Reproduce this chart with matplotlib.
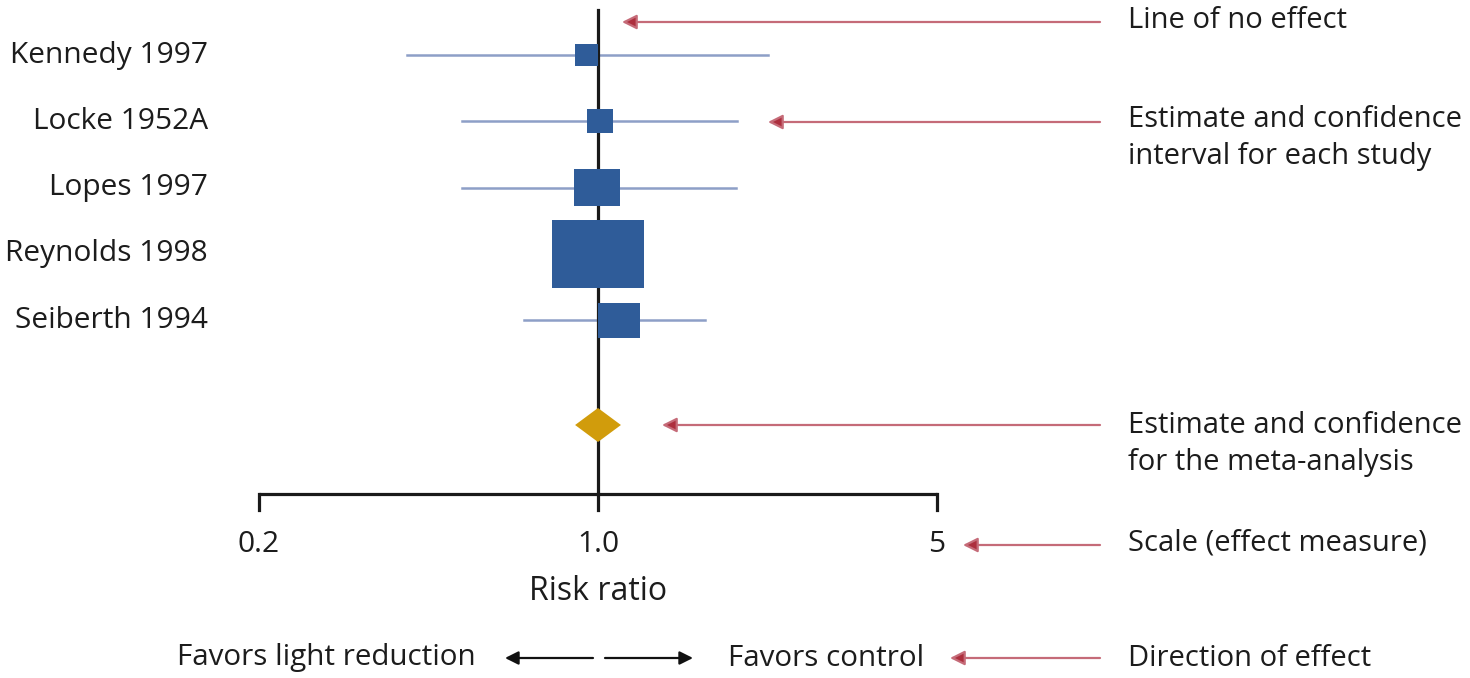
import numpy as np
import matplotlib
matplotlib.use("Agg")
import matplotlib.pyplot as plt
from matplotlib.patches import Rectangle, Polygon

plt.rcParams['font.family'] = ['Open Sans', 'DejaVu Sans']

# study data (risk ratio, 95% CI, weight)
studies = ["Kennedy 1997", "Locke 1952A", "Lopes 1997", "Reynolds 1998", "Seiberth 1994"]
rr = [0.947, 1.01, 0.995, 1.0, 1.105]
ci_low = [0.404, 0.524, 0.524, 0.88, 0.704]
ci_high = [2.24, 1.93, 1.925, 1.14, 1.66]
weights = [5, 6, 20, 80, 17]

# pooled estimate
pooled_rr = 1.0
pooled_low = 0.897
pooled_high = 1.115

scale_ticks = [0.2, 1.0, 5]
scale_labels = ["0.2", "1.0", "5"]

notes = ["Line of no effect",
         "Estimate and confidence\ninterval for each study",
         "Estimate and confidence\nfor the meta-analysis",
         "Scale (effect measure)",
         "Direction of effect"]

W, H = 1470, 678
PX_PER_LN = 210.7
X0 = 598  # pixel column of RR = 1
TXT = '#1c1c1c'


def px(x):
    # pixel column -> value on the log axis
    return np.exp((x - X0) / PX_PER_LN)


fig = plt.figure(figsize=(W / 100, H / 100), dpi=100)
ax = fig.add_axes([0, 0, 1, 1])
ax.set_xscale('log')
ax.set_xlim(px(0), px(W))
ax.set_ylim(H, 0)
ax.axis('off')

box_col = '#2f5c99'
ci_col = '#8d9fc7'
red = '#ad2f3e'
red_line = '#c56b78'

row_y = 55 + 66.3 * np.arange(len(studies))
pooled_y = 425
axis_y = 494

# line of no effect
ax.plot([1, 1], [10, axis_y], color='#1a1a1a', lw=2.3, zorder=3)

for i, name in enumerate(studies):
    y = row_y[i]
    ax.plot([ci_low[i], ci_high[i]], [y, y], color=ci_col, lw=1.8, zorder=2)
    half = 0.0245 * np.sqrt(weights[i])
    w_px = 2 * half * PX_PER_LN
    h = 7 + 0.66 * w_px
    ax.add_patch(Rectangle((rr[i] * np.exp(-half), y - h / 2),
                           rr[i] * np.exp(half) - rr[i] * np.exp(-half), h,
                           facecolor=box_col, edgecolor='none', zorder=4))
    ax.text(px(208), y, name, ha='right', va='center', fontsize=21.5, color=TXT)

# pooled diamond
ax.add_patch(Polygon([(pooled_low, pooled_y), (pooled_rr, pooled_y - 17),
                      (pooled_high, pooled_y), (pooled_rr, pooled_y + 17)],
                     closed=True, facecolor='#d19c0c', edgecolor='none', zorder=4))

# scale axis
ax.plot([scale_ticks[0], scale_ticks[-1]], [axis_y, axis_y], color='#1a1a1a', lw=2.3,
        solid_capstyle='butt', zorder=3)
for t, lab in zip(scale_ticks, scale_labels):
    ax.plot([t, t], [axis_y, 510], color='#1a1a1a', lw=2.3, zorder=3)
    ax.text(t, 545, lab, ha='center', va='center', fontsize=21.5, color=TXT)
ax.text(1.0, 591, "Risk ratio", ha='center', va='center', fontsize=23, color=TXT)

# direction of effect
ax.text(px(326), 658, "Favors light reduction", ha='center', va='center', fontsize=21.3,
        color=TXT)
ax.text(px(826), 658, "Favors control", ha='center', va='center', fontsize=21.3,
        color=TXT)
black_arrow = dict(arrowstyle='-|>', color='#111111', lw=1.6, mutation_scale=20,
                   shrinkA=0, shrinkB=0)
ax.annotate("", xy=(px(505), 658), xytext=(px(593), 658), arrowprops=black_arrow)
ax.annotate("", xy=(px(693), 658), xytext=(px(605), 658), arrowprops=black_arrow)

# red callouts
note_y = [22, 122, 425, 545, 658]
note_tip = [622, 768, 662, 963, 950]
note_text_y = [20, 138, 444, 543, 658]
for y, tip, ty, txt in zip(note_y, note_tip, note_text_y, notes):
    ax.annotate("", xy=(px(tip), y), xytext=(px(1100), y),
                arrowprops=dict(arrowstyle='-|>', color=red_line, lw=1.6,
                                mutation_scale=22, shrinkA=0, shrinkB=0,
                                fc=red, ec=red_line))
    ax.text(px(1128), ty, txt, ha='left', va='center', fontsize=21, color=TXT,
            linespacing=1.4)

fig.savefig("out.png", dpi=100, facecolor='white')
